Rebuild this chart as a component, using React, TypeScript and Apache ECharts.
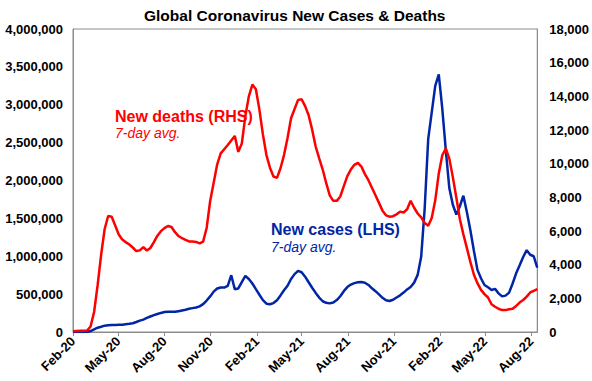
import React, { useEffect, useRef } from 'react';
import * as echarts from 'echarts';

const FONT = '"Liberation Sans", Arial, sans-serif';
const RED = '#ff0000';
const BLUE = '#0026a6';
const GREY = '#8c8c8c';

// Weekly observations, starting 1 Feb 2020
const START_YEAR = 2020;
const START_MONTH = 1; // February (0-based)
const START_DAY = 1;

// New deaths, 7-day avg (right axis)
const deaths = [
  50, 60, 70, 75, 85, 330, 1190, 2780, 4590, 6120,
  6890, 6850, 6330, 5790, 5490, 5340, 5200, 5020, 4810, 4850,
  5040, 4840, 4990, 5340, 5720, 5990, 6170, 6300, 6240, 5930,
  5700, 5570, 5470, 5380, 5380, 5350, 5260, 5370, 6180, 7780,
  8870, 9960, 10610, 10860, 11110, 11380, 11650, 10700, 11200, 12810,
  14000, 14700, 14420, 13210, 11730, 10510, 9760, 9240, 9160, 9730,
  10510, 11530, 12700, 13250, 13790, 13830, 13420, 12880, 12020, 11020,
  10320, 9650, 8840, 8120, 7790, 7790, 8050, 8670, 9260, 9650,
  9930, 10050, 9830, 9380, 9020, 8570, 8120, 7670, 7210, 6930,
  6850, 6880, 6990, 7150, 7100, 7290, 7800, 7380, 7040, 6810,
  6470, 6310, 6770, 7820, 9410, 10500, 10900, 10300, 9200, 7980,
  6700, 5800, 4980, 4150, 3400, 2900, 2500, 2250, 2050, 1650,
  1500, 1380, 1300, 1300, 1350, 1380, 1550, 1750, 1900, 2100,
  2350, 2450, 2550,
];

// New cases, 7-day avg (left axis)
const cases = [
  0, 0, 0, 0, 0, 13000, 36000, 57000, 70000, 84000,
  89000, 92000, 93000, 95000, 97000, 103000, 109000, 116000, 132000, 150000,
  164000, 186000, 205000, 222000, 237000, 252000, 263000, 268000, 268000, 266000,
  275000, 284000, 293000, 306000, 315000, 324000, 339000, 368000, 415000, 470000,
  533000, 574000, 588000, 586000, 609000, 750000, 565000, 575000, 659000, 740000,
  700000, 640000, 565000, 492000, 420000, 374000, 366000, 382000, 420000, 483000,
  551000, 610000, 700000, 764000, 807000, 789000, 730000, 657000, 584000, 516000,
  454000, 406000, 385000, 378000, 389000, 422000, 472000, 539000, 593000, 626000,
  645000, 656000, 659000, 650000, 621000, 577000, 539000, 497000, 451000, 418000,
  409000, 426000, 456000, 484000, 520000, 562000, 594000, 652000, 754000, 992000,
  1633000, 2550000, 2900000, 3250000, 3400000, 2950000, 2400000, 1900000, 1680000, 1550000,
  1660000, 1800000, 1580000, 1340000, 1070000, 820000, 710000, 620000, 590000, 555000,
  570000, 510000, 470000, 480000, 520000, 640000, 775000, 880000, 990000, 1080000,
  1020000, 1000000, 850000,
];

const weekDates: number[] = deaths.map((_, k) =>
  new Date(START_YEAR, START_MONTH, START_DAY + 7 * k).getTime()
);

const tickLabels = [
  'Feb-20', 'May-20', 'Aug-20', 'Nov-20', 'Feb-21', 'May-21',
  'Aug-21', 'Nov-21', 'Feb-22', 'May-22', 'Aug-22',
];
const MONTHS = ['Jan', 'Feb', 'Mar', 'Apr', 'May', 'Jun', 'Jul', 'Aug', 'Sep', 'Oct', 'Nov', 'Dec'];
const tickDates: number[] = tickLabels.map((s) => {
  const [m, y] = s.split('-');
  return new Date(2000 + Number(y), MONTHS.indexOf(m), 1).getTime();
});

const leftTicks = [0, 500000, 1000000, 1500000, 2000000, 2500000, 3000000, 3500000, 4000000];
const rightTicks = [0, 2000, 4000, 6000, 8000, 10000, 12000, 14000, 16000, 18000];

const fmt = (v: number) => Math.round(v).toLocaleString('en-US');

export default function App() {
  const ref = useRef<HTMLDivElement>(null);
  useEffect(() => {
    if (!ref.current) return;
    const chart = echarts.init(ref.current, undefined, { renderer: 'svg' });
    const axisLabelBase = { fontFamily: FONT, fontSize: 13, fontWeight: 'bold' as const, color: '#000' };
    chart.setOption({
      animation: false,
      backgroundColor: '#ffffff',
      title: {
        text: 'Global Coronavirus New Cases & Deaths',
        left: 139,
        top: 2,
        textStyle: { fontFamily: FONT, fontSize: 15.5, fontWeight: 'bold', color: '#000' },
      },
      grid: {
        left: 73, right: 54, top: 29, bottom: 49,
        show: true, borderColor: GREY, borderWidth: 1, backgroundColor: 'transparent',
      },
      xAxis: {
        type: 'value',
        min: weekDates[0],
        max: weekDates[weekDates.length - 1],
        axisLine: { show: true, lineStyle: { color: GREY, width: 1 } },
        axisTick: { show: true, customValues: tickDates, length: 4, lineStyle: { color: GREY } },
        axisLabel: {
          ...axisLabelBase,
          customValues: tickDates,
          rotate: 45,
          margin: 7,
          formatter: (v: number) => {
            const i = tickDates.indexOf(v);
            return i >= 0 ? tickLabels[i] : '';
          },
        },
        splitLine: { show: false },
      },
      yAxis: [
        {
          type: 'value',
          position: 'left',
          min: leftTicks[0],
          max: leftTicks[leftTicks.length - 1],
          interval: leftTicks[1] - leftTicks[0],
          axisLine: { show: true, lineStyle: { color: GREY } },
          axisTick: { show: false },
          splitLine: { show: false },
          axisLabel: { ...axisLabelBase, margin: 10, formatter: (v: number) => fmt(v) },
        },
        {
          type: 'value',
          position: 'right',
          min: rightTicks[0],
          max: rightTicks[rightTicks.length - 1],
          interval: rightTicks[1] - rightTicks[0],
          axisLine: { show: true, lineStyle: { color: GREY } },
          axisTick: { show: false },
          splitLine: { show: false },
          axisLabel: { ...axisLabelBase, margin: 12, formatter: (v: number) => fmt(v) },
        },
      ],
      series: [
        {
          name: 'New cases (LHS)',
          type: 'line',
          yAxisIndex: 0,
          showSymbol: false,
          data: weekDates.map((d, i) => [d, cases[i]]),
          lineStyle: { color: BLUE, width: 2.5 },
          itemStyle: { color: BLUE },
          z: 2,
        },
        {
          name: 'New deaths (RHS)',
          type: 'line',
          yAxisIndex: 1,
          showSymbol: false,
          data: weekDates.map((d, i) => [d, deaths[i]]),
          lineStyle: { color: RED, width: 2.5 },
          itemStyle: { color: RED },
          z: 3,
        },
      ],
      graphic: [
        { type: 'text', x: 115, y: 116, style: { text: 'New deaths (RHS)', fill: RED, font: `bold 16px ${FONT}`, verticalAlign: 'middle' } },
        { type: 'text', x: 115, y: 133, style: { text: '7-day avg.', fill: RED, font: `italic 14px ${FONT}`, verticalAlign: 'middle' } },
        { type: 'text', x: 271, y: 229, style: { text: 'New cases (LHS)', fill: BLUE, font: `bold 16px ${FONT}`, verticalAlign: 'middle' } },
        { type: 'text', x: 271, y: 247, style: { text: '7-day avg.', fill: BLUE, font: `italic 14px ${FONT}`, verticalAlign: 'middle' } },
      ],
    });
    return () => chart.dispose();
  }, []);
  return (
    <div
      ref={ref}
      style={{ position: 'fixed', left: 0, top: 0, width: 592, height: 381, background: '#fff' }}
    />
  );
}
